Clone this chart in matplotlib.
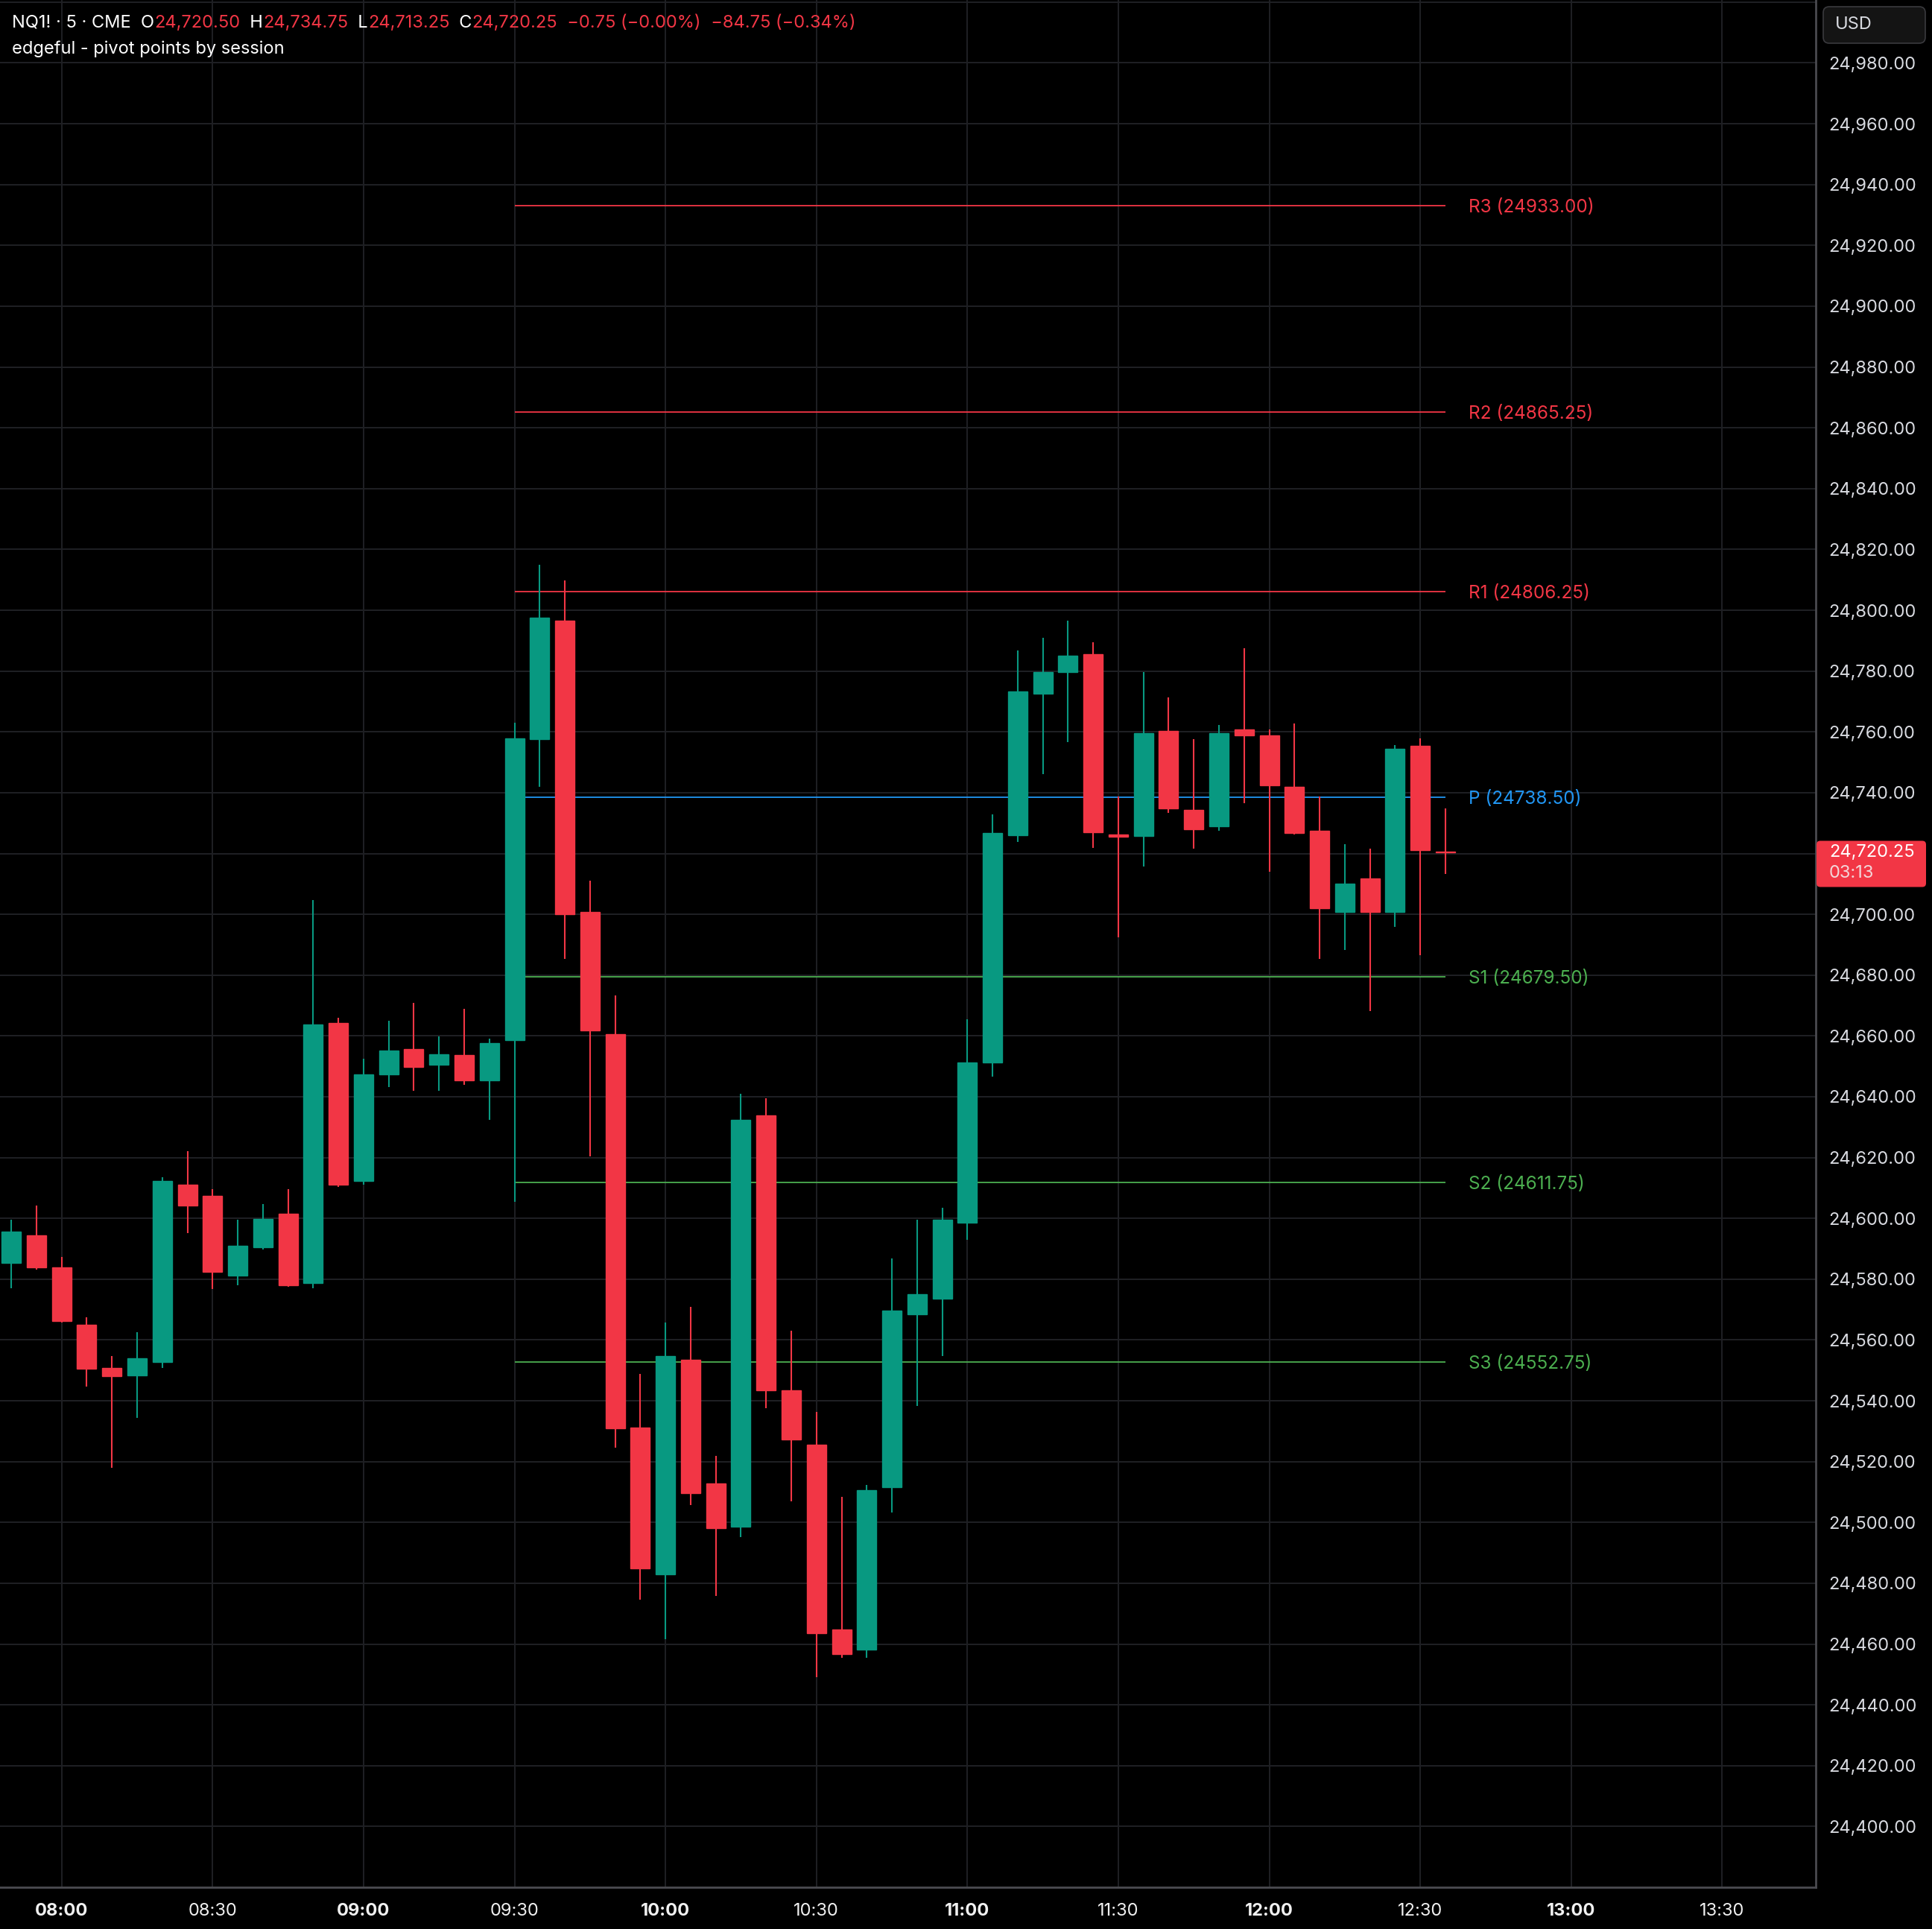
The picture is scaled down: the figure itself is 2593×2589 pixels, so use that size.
import pandas as pd
import matplotlib
matplotlib.use('Agg')
import matplotlib.pyplot as plt
from matplotlib.patches import FancyBboxPatch
from matplotlib.transforms import IdentityTransform

plt.rcParams['font.family'] = ['Inter', 'DejaVu Sans']

# 5 minute NQ1! bars, first bar 07:50
start = '2025-01-01 07:50'
opens = [24585.25, 24594.50, 24584.00, 24565.00, 24550.75, 24548.25, 24552.75, 24611.00,
         24607.50, 24581.25, 24590.50, 24601.50, 24578.75, 24664.25, 24612.25, 24647.25,
         24655.75, 24650.50, 24653.75, 24645.50, 24658.50, 24757.50, 24796.50, 24700.75,
         24660.50, 24531.25, 24483.00, 24553.50, 24512.75, 24498.50, 24633.75, 24543.50,
         24525.50, 24464.75, 24458.25, 24511.50, 24568.50, 24573.50, 24598.50, 24651.25,
         24726.00, 24772.50, 24779.75, 24785.50, 24726.25, 24725.75, 24760.25, 24734.25,
         24729.00, 24760.75, 24758.75, 24742.00, 24727.50, 24700.75, 24711.75, 24700.75,
         24755.50, 24720.50]
highs = [24599.50, 24604.25, 24587.25, 24567.50, 24554.75, 24562.50, 24613.50, 24622.00,
         24609.50, 24599.50, 24604.75, 24609.50, 24704.75, 24666.00, 24652.50, 24665.00,
         24670.75, 24659.75, 24669.00, 24659.00, 24763.00, 24815.00, 24809.75, 24711.00,
         24673.25, 24548.75, 24565.75, 24571.00, 24522.00, 24641.00, 24639.50, 24563.00,
         24536.25, 24508.50, 24512.25, 24586.75, 24599.50, 24603.50, 24665.50, 24732.75,
         24786.75, 24791.00, 24796.50, 24789.50, 24738.75, 24779.75, 24771.25, 24757.50,
         24762.25, 24787.50, 24760.75, 24762.75, 24738.75, 24723.00, 24721.50, 24755.75,
         24757.75, 24734.75]
lows = [24577.00, 24583.25, 24565.75, 24544.75, 24518.00, 24534.50, 24550.75, 24595.25,
        24576.75, 24578.00, 24589.75, 24577.50, 24577.00, 24610.25, 24611.00, 24643.25,
        24642.00, 24642.00, 24644.00, 24632.50, 24605.50, 24742.00, 24685.25, 24620.50,
        24524.50, 24474.50, 24461.50, 24505.75, 24475.75, 24495.25, 24537.50, 24507.00,
        24449.00, 24455.50, 24455.50, 24503.25, 24538.25, 24554.75, 24593.00, 24646.50,
        24723.75, 24746.00, 24756.75, 24721.75, 24692.50, 24715.75, 24733.25, 24721.50,
        24727.50, 24736.50, 24714.00, 24726.25, 24685.25, 24688.25, 24668.25, 24695.75,
        24686.50, 24713.25]
closes = [24595.75, 24584.00, 24566.25, 24550.50, 24548.00, 24554.00, 24612.25, 24604.25,
          24582.50, 24591.00, 24599.75, 24578.00, 24663.75, 24611.00, 24647.25, 24655.25,
          24649.75, 24654.00, 24645.50, 24657.75, 24757.75, 24797.50, 24700.00, 24661.75,
          24531.00, 24485.00, 24554.75, 24509.75, 24498.00, 24632.50, 24543.50, 24527.25,
          24463.50, 24456.75, 24510.50, 24569.75, 24575.00, 24599.50, 24651.25, 24726.75,
          24773.25, 24779.75, 24785.00, 24727.00, 24725.50, 24759.50, 24734.75, 24728.00,
          24759.50, 24758.75, 24742.50, 24726.75, 24702.00, 24710.00, 24700.75, 24754.50,
          24721.00, 24720.25]

tick_times = ['08:00', '08:30', '09:00', '09:30', '10:00', '10:30',
              '11:00', '11:30', '12:00', '12:30', '13:00', '13:30']

pivot_names = ['R3', 'R2', 'R1', 'P', 'S1', 'S2', 'S3']
pivot_values = [24933.00, 24865.25, 24806.25, 24738.50, 24679.50, 24611.75, 24552.75]
pivot_colors = ['#f23645', '#f23645', '#f23645', '#2196f3', '#4caf50', '#4caf50', '#4caf50']
pivot_start = '09:30'

price_ticks = list(range(24380, 25001, 20))

up_color = '#089981'
down_color = '#f23645'
grid_color = '#1f2024'
text_color = '#d8dae0'

W, H = 2593, 2589
fig = plt.figure(figsize=(W / 100, H / 100), dpi=100, facecolor='black')
ax = fig.add_axes([0, 56 / H, 2437 / W, 2533 / H])
ax.set_facecolor('black')

times = pd.date_range(start, periods=len(opens), freq='5min')
x = list(range(len(opens)))
t0 = times[0]


def bar_index(hhmm):
    t = pd.Timestamp(t0.strftime('%Y-%m-%d') + ' ' + hhmm)
    return (t - t0) / pd.Timedelta('5min')


colors = [up_color if c >= o else down_color for o, c in zip(opens, closes)]
bottoms = [min(o, c) for o, c in zip(opens, closes)]
heights = [abs(c - o) for o, c in zip(opens, closes)]

ax.vlines(x, lows, highs, colors=colors, linewidth=1.5, zorder=3)
ax.bar(x, heights, bottom=bottoms, width=0.77, color=colors, edgecolor=colors,
       linewidth=1.0, zorder=4)

# pivot levels
p0 = bar_index(pivot_start)
p1 = x[-1]
for name, val, col in zip(pivot_names, pivot_values, pivot_colors):
    ax.hlines(val, p0, p1, colors=col, linewidth=1.3, zorder=2)
    ax.text(p1 + 0.92, val, f'{name} ({val:.2f})', color=col, fontsize=17.5,
            va='center_baseline', ha='left', zorder=5)

ax.set_xlim(-0.449, 71.72)
ax.set_ylim(24380, 25000.7)

ax.set_xticks([bar_index(t) for t in tick_times])
ax.set_xticklabels(tick_times)
for lbl in ax.get_xticklabels():
    if lbl.get_text().endswith(':00'):
        lbl.set_fontweight('bold')
ax.set_yticks(price_ticks)
ax.set_yticklabels([f'{v:,.2f}' if 24400 <= v <= 24980 else '' for v in price_ticks])
ax.yaxis.tick_right()
ax.tick_params(axis='y', length=0, pad=12.5, labelsize=17, labelcolor=text_color)
ax.tick_params(axis='x', length=0, pad=15, labelsize=17, labelcolor='#f0f0f0')

ax.grid(True, color=grid_color, linewidth=1.4, zorder=0)
ax.set_axisbelow(True)
for side in ['top', 'left']:
    ax.spines[side].set_visible(False)
for side in ['right', 'bottom']:
    ax.spines[side].set_color('#4a4a4f')
    ax.spines[side].set_linewidth(2.0)

# header legend
fig.canvas.draw()
renderer = fig.canvas.get_renderer()
red = '#f23645'
line1 = [('NQ1! · 5 · CME  ', '#ffffff'), ('O', '#ffffff'), ('24,720.50', red),
         ('  H', '#ffffff'), ('24,734.75', red), ('  L', '#ffffff'), ('24,713.25', red),
         ('  C', '#ffffff'), ('24,720.25', red), ('  −0.75 (−0.00%)', red),
         ('  −84.75 (−0.34%)', red)]
xpix = 16
for s, col in line1:
    t = fig.text(xpix / W, 1 - 31 / H, s, color=col, fontsize=17, va='center', ha='left')
    xpix = t.get_window_extent(renderer).x1
fig.text(16 / W, 1 - 66 / H, 'edgeful - pivot points by session', color='#ffffff',
         fontsize=17, va='center', ha='left')

# USD box
usd = FancyBboxPatch((2447, H - 58), 137, 49, boxstyle='round,pad=0,rounding_size=8',
                     transform=IdentityTransform(), facecolor='#141414',
                     edgecolor='#3a3a3e', linewidth=1.2)
fig.patches.append(usd)
fig.text(2463 / W, 1 - 33 / H, 'USD', color=text_color, fontsize=17, va='center', ha='left')

# last price box
last = closes[-1]
ypix = ax.transData.transform((0, last))[1]
box = FancyBboxPatch((2438, ypix - 46), 147, 62, boxstyle='round,pad=0,rounding_size=5',
                     transform=IdentityTransform(), facecolor=down_color,
                     edgecolor='none')
fig.patches.append(box)
fig.text(2455 / W, ypix / H, f'{last:,.2f}', color='#ffffff', fontsize=17,
         va='center', ha='left')
fig.text(2455 / W, (ypix - 28) / H, '03:13', color='#f3d6d9', fontsize=17,
         va='center', ha='left')

fig.savefig('out.png', dpi=100, facecolor='black')
